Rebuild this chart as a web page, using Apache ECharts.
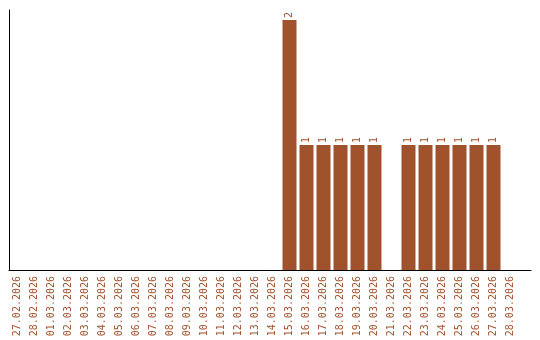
<!DOCTYPE html>
<html><head><meta charset="utf-8">
<script src="https://cdn.jsdelivr.net/npm/echarts@6/dist/echarts.min.js"></script>
<style>html,body{margin:0;padding:0;background:#fff}#c{width:540px;height:340px}</style>
</head><body><div id="c"></div>
<script>
const categories = ["27.02.2026","28.02.2026","01.03.2026","02.03.2026","03.03.2026","04.03.2026","05.03.2026","06.03.2026","07.03.2026","08.03.2026","09.03.2026","10.03.2026","11.03.2026","12.03.2026","13.03.2026","14.03.2026","15.03.2026","16.03.2026","17.03.2026","18.03.2026","19.03.2026","20.03.2026","21.03.2026","22.03.2026","23.03.2026","24.03.2026","25.03.2026","26.03.2026","27.03.2026","28.03.2026"];
const values = [0,0,0,0,0,0,0,0,0,0,0,0,0,0,0,0,2,1,1,1,1,1,0,1,1,1,1,1,1,0];
const color = '#a0522d';
const chart = echarts.init(document.getElementById('c'));
chart.setOption({
  animation:false,
  grid:[{left:9,right:21,top:10,bottom:70},{left:9,right:9,top:10,bottom:70}],
  xAxis:[{type:'category',gridIndex:0,data:categories,
    axisLine:{show:false},axisTick:{show:false},
    axisLabel:{rotate:90,interval:0,color:color,fontFamily:'DejaVu Sans Mono',fontSize:10,margin:6}},
    {type:'category',gridIndex:1,data:[''],axisLine:{show:true,lineStyle:{color:'#000',width:1}},axisTick:{show:false},axisLabel:{show:false}}],
  yAxis:[{type:'value',gridIndex:0,min:0,max:2.08,axisLine:{show:true,lineStyle:{color:'#000',width:1}},axisTick:{show:false},axisLabel:{show:false},splitLine:{show:false}},
    {type:'value',gridIndex:1,show:false}],
  series:[{type:'bar',xAxisIndex:0,yAxisIndex:0,data:values.map(v=>v===0?null:v),barWidth:14,
    itemStyle:{color:color},
    label:{show:true,position:'top',rotate:90,align:'left',verticalAlign:'middle',distance:2,color:color,fontFamily:'DejaVu Sans Mono',fontSize:10}}]
});
</script></body></html>
